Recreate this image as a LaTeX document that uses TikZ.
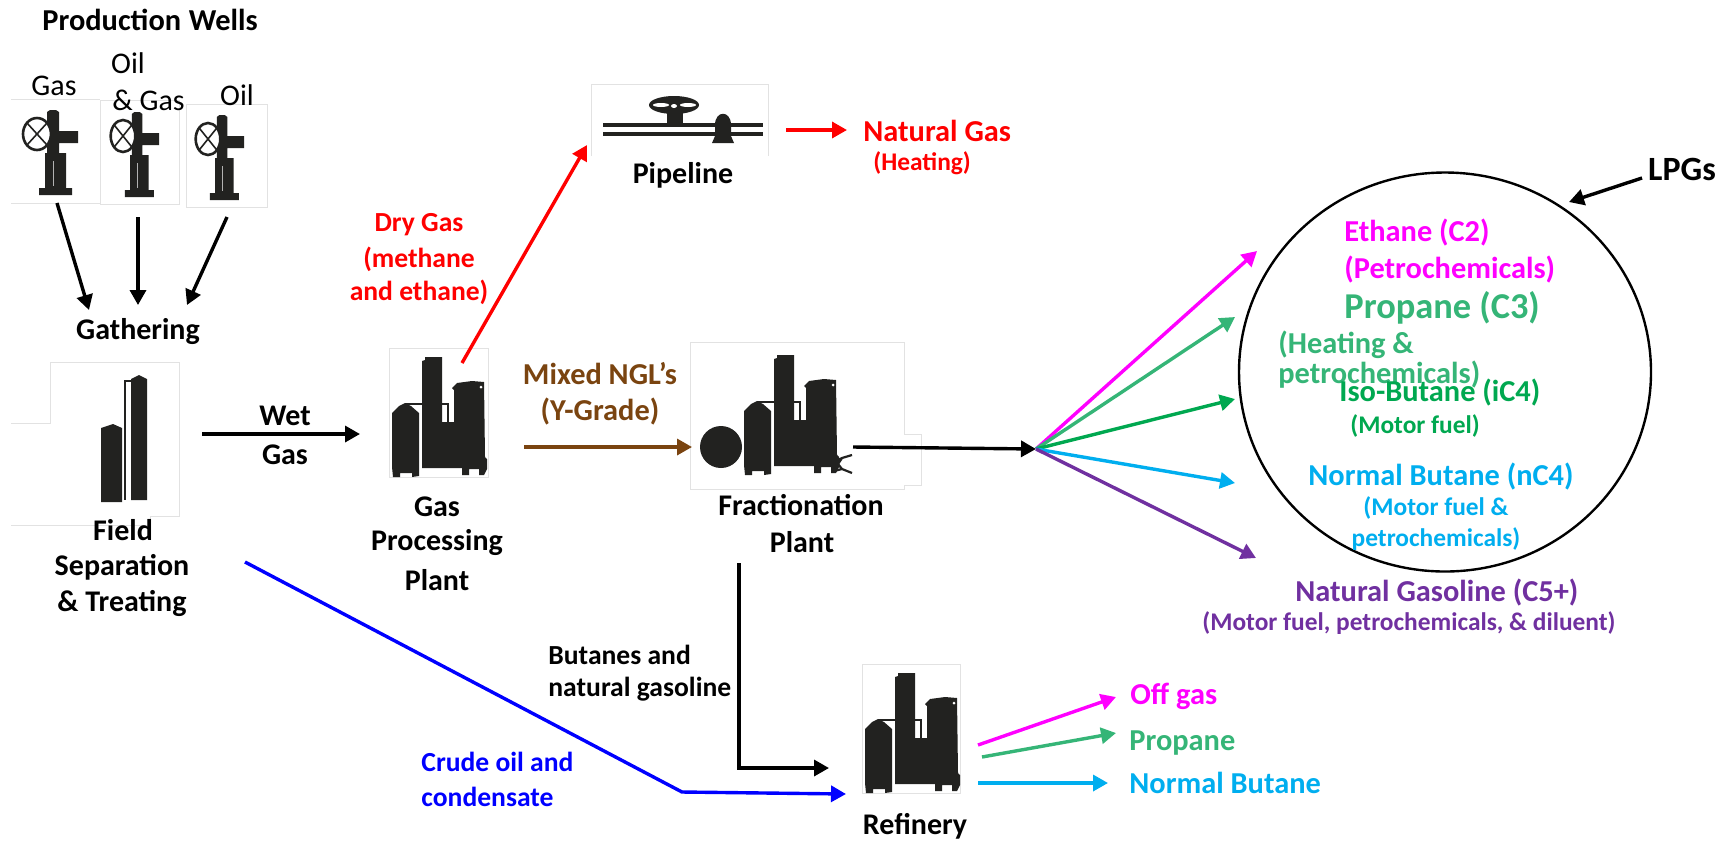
\documentclass[tikz,border=0pt]{standalone}
\usepackage{fontspec}
\setmainfont{Carlito}
\usetikzlibrary{arrows.meta}
\definecolor{ink}{HTML}{222220}
\definecolor{framegray}{HTML}{E2E2E2}
\definecolor{lpgmag}{HTML}{FF00FF}
\definecolor{lpggreen}{HTML}{35B577}
\definecolor{isogreen}{HTML}{00A850}
\definecolor{lpgblue}{HTML}{00AEEF}
\definecolor{lpgpurple}{HTML}{7030A0}
\definecolor{nglbrown}{HTML}{7A4410}
\tikzset{
  x=0.5pt,y=-0.5pt,
  lab/.style={font=\bfseries\fontsize{15}{17}\selectfont,inner sep=0pt,text=black},
  labc/.style={font=\bfseries\fontsize{15.2}{17}\selectfont,inner sep=0pt},
  labn/.style={font=\bfseries\fontsize{13.8}{16}\selectfont,inner sep=0pt},
  labsm/.style={font=\bfseries\fontsize{12.7}{15}\selectfont,inner sep=0pt},
  lablg/.style={font=\bfseries\fontsize{18.2}{20}\selectfont,inner sep=0pt},
  plain/.style={font=\fontsize{15}{17}\selectfont,inner sep=0pt,text=black},
  flow/.style={line width=1.7pt,-{Triangle[length=7.5pt,width=8pt]}},
  framed/.style={draw=framegray,line width=0.5pt,fill=white},
  plantpic/.pic={
    \fill[ink] (0,56) -- (7,49) -- (13,46) -- (19,49) -- (27,56) -- (27,119) -- (20,120) -- (20,116) -- (8,116) -- (8,120) -- (1,120) -- (0,110) -- cycle;
    \fill[ink] (30,4) -- (33,3) -- (33,0) -- (50,0) -- (50,65) -- (62,65) -- (62,33) -- (60,31) -- (65,26) -- (80,24) -- (92,25) -- (93,100) -- (95,102) -- (95,112) -- (92,118) -- (87,118) -- (87,112) -- (77,112) -- (77,118) -- (70,118) -- (70,111) -- (30,111) -- cycle;
    \draw[ink,line width=1.1pt] (13,47) -- (56,47) -- (56,65);
    \fill[white] (89,30) circle[radius=1.5];
  },
  wellpic/.pic={
    \fill[ink] (10,-22) -- (13,-24) -- (19,-24) -- (22,-22) -- (22,-3) -- (41,-3) -- (41,9) -- (22,9) -- (22,19) -- (29,19) -- (29,54) -- (35,54) -- (35,61) -- (2,61) -- (2,54) -- (8,54) -- (8,19) -- (10,19) -- cycle;
    \draw[gray!60,line width=0.35pt] (16,27) -- (16,52);
    \draw[ink,fill=white,line width=1.3pt] (0,0) ellipse[x radius=14,y radius=16];
    \draw[ink,line width=0.8pt] (-10,-11) -- (10,11) (-10,11) -- (10,-11);
  }
}
\begin{document}
\begin{tikzpicture}
\useasboundingbox (0,0) rectangle (1733,842);
\fill[white] (0,0) rectangle (1733,842);

% well frames
\draw[framegray,line width=0.5pt] (11,99) -- (100,99) (11,203) -- (100,203);
\draw[framed] (100,100) rectangle (179,204);
\draw[framed] (186,104) rectangle (267,207);
\pic at (37,134) {wellpic};
\pic[xscale=.88] at (123,136) {wellpic};
\pic[xscale=.88] at (208,139) {wellpic};

% field separation frame and vessels
\draw[framed] (11,423) -- (50,423) -- (50,362) -- (179,362) -- (179,516) -- (150,516) -- (150,525) -- (11,525);
\fill[ink] (101,428) -- (113,424) -- (122,428) -- (122,502) -- (101,502) -- cycle;
\fill[ink] (131,379) -- (139,375) -- (147,379) -- (147,500) -- (131,500) -- cycle;
\draw[ink,line width=0.8pt] (131,381) -- (125,381) -- (125,500);

% plant frames
\draw[framed] (389,348) rectangle (488,477);
\pic at (392,357) {plantpic};
\draw[framed] (690,342) -- (904,342) -- (904,434) -- (921,434) -- (921,485) -- (904,485) -- (904,489) -- (690,489) -- cycle;
\pic at (744,355) {plantpic};
\fill[ink] (721,447) circle[radius=21];
\draw[ink,line width=1.1pt] (834,462) -- (842,458) -- (852,455) (842,458) -- (838,464) -- (842,469) -- (852,473) (834,471) -- (842,469);
\draw[framed] (862,664) rectangle (960,793);
\pic at (865,673) {plantpic};

% pipeline
\draw[framed] (591,156) -- (591,84) -- (768,84) -- (768,156);
\draw[ink,line width=2.4pt] (603,125) -- (763,125) (603,134) -- (763,134);
\fill[ink] (667,108) rectangle (683,127);
\fill[ink] (674,105) ellipse[x radius=25,y radius=9];
\fill[white] (661,105) ellipse[x radius=8,y radius=2] (688,105) ellipse[x radius=8,y radius=2] (674,106) ellipse[x radius=3,y radius=2];
\fill[ink] (712,143) -- (715,136) -- (715,125) .. controls (715,110) and (731,110) .. (731,125) -- (731,136) -- (734,143) -- cycle;

% LPG circle
\draw[black,line width=1.2pt] (1445,372) ellipse[x radius=206,y radius=199.5];

% coordinates
\coordinate (wellA) at (57,203);   \coordinate (gathA) at (89,310);
\coordinate (wellB) at (138,217);  \coordinate (gathB) at (138,305);
\coordinate (wellC) at (227,217);  \coordinate (gathC) at (187,305);
\coordinate (fieldOut) at (202,434); \coordinate (gasIn) at (360,434);
\coordinate (gasOut) at (462,363);   \coordinate (pipeIn) at (587,145);
\coordinate (pipeOut) at (786,130);  \coordinate (ngTip) at (847,130);
\coordinate (nglOut) at (524,447);   \coordinate (fracIn) at (692,447);
\coordinate (fracOut) at (853,447);  \coordinate (hub) at (1036,449);
\coordinate (ethTip) at (1257,251);  \coordinate (proTip) at (1235,317);
\coordinate (isoTip) at (1235,399);  \coordinate (norTip) at (1235,483);
\coordinate (natTip) at (1256,558);
\coordinate (lpgFrom) at (1642,178); \coordinate (lpgTip) at (1569,202);
\coordinate (fieldCrude) at (245,562); \coordinate (crudeBend) at (682,792); \coordinate (crudeTip) at (846,794);
\coordinate (fracDown) at (739,563); \coordinate (downBend) at (739,768); \coordinate (downTip) at (829,768);
\coordinate (refA) at (978,745); \coordinate (offTip) at (1116,697);
\coordinate (refB) at (982,757); \coordinate (rproTip) at (1116,733);
\coordinate (refC) at (978,783); \coordinate (rnorTip) at (1108,783);

% connectors
\draw[flow] (wellA) -- (gathA);
\draw[flow] (wellB) -- (gathB);
\draw[flow] (wellC) -- (gathC);
\draw[flow] (fieldOut) -- (gasIn);
\draw[flow,red] (gasOut) -- (pipeIn);
\draw[flow,red] (pipeOut) -- (ngTip);
\draw[flow,nglbrown] (nglOut) -- (fracIn);
\draw[flow] (fracOut) -- (hub);
\draw[flow,lpgmag] (hub) -- (ethTip);
\draw[flow,lpggreen] (hub) -- (proTip);
\draw[flow,isogreen] (hub) -- (isoTip);
\draw[flow,lpgblue] (hub) -- (norTip);
\draw[flow,lpgpurple] (hub) -- (natTip);
\draw[flow] (lpgFrom) -- (lpgTip);
\draw[flow,blue] (fieldCrude) -- (crudeBend) -- (crudeTip);
\draw[flow] (fracDown) -- (downBend) -- (downTip);
\draw[flow,lpgmag] (refA) -- (offTip);
\draw[flow,lpggreen] (refB) -- (rproTip);
\draw[flow,lpgblue] (refC) -- (rnorTip);

% black labels
\node[labc,text=black] (wells) at (150,20) {Production\hspace{0.25em}Wells};
\node[plain] (tgas) at (54,86) {Gas};
\node[plain] (toil) at (128,63) {Oil};
\node[plain,anchor=west] (toilgas) at (112,100) {\& Gas};
\node[plain] (toilb) at (237,95) {Oil};
\node[lab] (gather) at (138,332) {Gathering};
\node[lab] (wet) at (285,416) {Wet};
\node[lab] (wetgas) at (285,455) {Gas};
\node[lab] (fsa) at (123,530) {Field};
\node[lab] (fsb) at (122,567) {Separation};
\node[lab] (fsc) at (122,603) {\& Treating};
\node[lab] (gpa) at (437,507) {Gas};
\node[lab] (gpb) at (437,543) {Processing};
\node[lab] (gpc) at (437,580) {Plant};
\node[lab] (pipe) at (683,175) {Pipeline};
\node[lab] (fra) at (801,505) {Fractionation};
\node[lab] (frb) at (802,542) {Plant};
\node[lab] (refy) at (915,826) {Refinery};
\node[labn,text=black,anchor=west] (buta) at (548,655) {Butanes and};
\node[labn,text=black,anchor=west] (butb) at (548,689) {natural gasoline};
\node[font=\bfseries\fontsize{17}{19}\selectfont,inner sep=0pt] (lpgs) at (1682,169) {LPGs};

% coloured labels
\node[labn,text=red] (dga) at (419,225) {Dry Gas};
\node[labn,text=red] (dgb) at (419,259) {(methane};
\node[labn,text=red] (dgc) at (419,292) {and ethane)};
\node[labc,text=red,anchor=west] (nga) at (863,131) {Natural Gas};
\node[labsm,text=red,anchor=west] (ngb) at (873,163) {(Heating)};
\node[labc,text=nglbrown] (mxa) at (600,374) {Mixed NGL’s};
\node[labc,text=nglbrown] (mxb) at (600,412) {(Y-Grade)};
\node[labn,text=blue,anchor=west] (cra) at (421,762) {Crude oil and};
\node[labn,text=blue,anchor=west] (crb) at (421,797) {condensate};
\node[labc,text=lpgmag,anchor=west] (eta) at (1344,233) {Ethane (C2)};
\node[labc,text=lpgmag,anchor=west] (etb) at (1344,270) {(Petrochemicals)};
\node[lablg,text=lpggreen,anchor=west] (pra) at (1344,308) {Propane (C3)};
\node[labc,text=lpggreen,anchor=west] (prb) at (1278,345) {(Heating \&};
\node[labc,text=lpggreen,anchor=west] (prc) at (1278,375) {petrochemicals)};
\node[labc,text=isogreen,anchor=west] (isa) at (1339,393) {Iso-Butane (iC4)};
\node[labsm,text=isogreen,anchor=west] (isb) at (1350,426) {(Motor fuel)};
\node[labc,text=lpgblue,anchor=west] (noa) at (1308,477) {Normal Butane (nC4)};
\node[labsm,text=lpgblue] (nob) at (1436,508) {(Motor fuel \&};
\node[labsm,text=lpgblue] (noc) at (1436,539) {petrochemicals)};
\node[labc,text=lpgpurple,anchor=west] (nta) at (1295,593) {Natural Gasoline (C5+)};
\node[labsm,text=lpgpurple,anchor=west] (ntb) at (1202,623) {(Motor fuel, petrochemicals, \& diluent)};
\node[labc,text=lpgmag,anchor=west] (ofg) at (1130,696) {Off gas};
\node[labc,text=lpggreen,anchor=west] (rpr) at (1129,743) {Propane};
\node[labc,text=lpgblue,anchor=west] (rno) at (1129,783) {Normal Butane};
\end{tikzpicture}
\end{document}
